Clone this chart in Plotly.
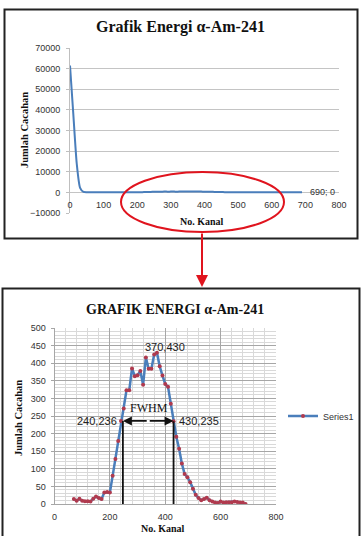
import plotly.graph_objects as go

W, H = 362, 536

# ---------------- data ----------------
# Full spectrum (top chart): channel vs counts
head_channels = [0, 10, 20, 30, 40, 50, 60]
head_counts = [61500, 37600, 14000, 2200, 200, 40, 20]

# Zoomed peak region (bottom chart)
peak_channels = [70, 80, 90, 100, 110, 120, 130, 140, 150, 160, 170, 180, 190, 200,
                 210, 220, 230, 240, 250, 260, 270, 280, 290, 300, 310, 320, 330, 340,
                 350, 360, 370, 380, 390, 400, 410, 420, 430, 440, 450, 460, 470, 480,
                 490, 500, 510, 520, 530, 540, 550, 560, 570, 580, 590, 600, 610, 620,
                 630, 640, 650, 660, 670, 680, 690]
peak_counts = [14, 9, 15, 9, 8, 8, 7, 15, 21, 17, 14, 33, 34, 33,
               80, 128, 179, 236, 271, 323, 323, 385, 363, 366, 378, 339, 416, 384,
               384, 425, 430, 391, 365, 341, 333, 285, 235, 191, 157, 115, 85, 76,
               62, 43, 26, 17, 11, 14, 18, 11, 7, 4, 3, 7, 4, 5,
               5, 5, 7, 6, 4, 4, 0]

full_channels = head_channels + peak_channels
full_counts = head_counts + peak_counts

top_title = "Grafik Energi α-Am-241"
bottom_title = "GRAFIK ENERGI α-Am-241"
x_title = "No. Kanal"
y_title = "Jumlah Cacahan"
series_name = "Series1"

top_yticks = [-10000, 0, 10000, 20000, 30000, 40000, 50000, 60000, 70000]
top_xticks = [0, 100, 200, 300, 400, 500, 600, 700, 800]
bottom_xticks = [0, 200, 400, 600, 800]
bottom_yticks = [0, 50, 100, 150, 200, 250, 300, 350, 400, 450, 500]

peak_point = (370, 430)
fwhm_left = (240, 236)
fwhm_right = (430, 235)
fwhm_lines_x = [247, 430]
end_label = (690, 0)

# ---------------- helpers ----------------
def px(x):
    return x / W

def py(y):
    return 1 - y / H

LINE_BLUE = "#4a7ebb"
MARK = "#b03a4e"
TICKFONT = dict(family="Liberation Sans, Arial, sans-serif", size=9, color="#333333")
SERIF = "Liberation Serif, Times New Roman, serif"

top_xdom = [px(70), px(339)]
top_ydom = [py(213), py(48)]
top_yrange = [-10000, 70000]
zero_pos = top_ydom[0] + (0 - top_yrange[0]) / (top_yrange[1] - top_yrange[0]) * (top_ydom[1] - top_ydom[0])

bot_xdom = [px(54.5), px(276)]
bot_ydom = [py(504), py(328)]

fig = go.Figure()

fig.add_trace(go.Scatter(
    x=full_channels, y=full_counts, mode="lines",
    line=dict(color=LINE_BLUE, width=2, shape="spline", smoothing=0.6),
    xaxis="x", yaxis="y", showlegend=False, hoverinfo="x+y"))

fig.add_trace(go.Scatter(
    x=peak_channels, y=peak_counts, mode="lines+markers", name=series_name,
    line=dict(color=LINE_BLUE, width=2.5),
    marker=dict(color=MARK, size=4),
    xaxis="x2", yaxis="y2", showlegend=True))

fig.update_layout(
    width=W, height=H,
    margin=dict(l=0, r=0, t=0, b=0, autoexpand=False),
    paper_bgcolor="white", plot_bgcolor="white",
    xaxis=dict(domain=top_xdom, range=[0, 800], tickvals=top_xticks, anchor="free",
               position=zero_pos, showgrid=False, zeroline=False, showline=False,
               ticks="", ticklabelstandoff=6, tickfont=TICKFONT, fixedrange=True),
    yaxis=dict(domain=top_ydom, range=top_yrange, tickvals=top_yticks, tickformat="d", anchor="x",
               showgrid=True, gridcolor="#c4c4c4", gridwidth=1, zeroline=True,
               zerolinecolor="#c4c4c4", zerolinewidth=1,
               showline=True, linecolor="#bfbfbf", linewidth=1,
               ticks="outside", ticklen=3, tickcolor="#bfbfbf", ticklabelstandoff=4,
               tickfont=TICKFONT, fixedrange=True),
    xaxis2=dict(domain=bot_xdom, range=[0, 800], tickvals=bottom_xticks, anchor="y2",
                showgrid=True, gridcolor="#a6a6a6", gridwidth=1, zeroline=False,
                showline=True, linecolor="#a6a6a6", linewidth=1,
                minor=dict(dtick=40, showgrid=True, gridcolor="#d9d9d9", gridwidth=1),
                ticks="", ticklabelstandoff=4, tickfont=TICKFONT, fixedrange=True),
    yaxis2=dict(domain=bot_ydom, range=[0, 500], tickvals=bottom_yticks, anchor="x2",
                showgrid=True, gridcolor="#a6a6a6", gridwidth=1, zeroline=False,
                showline=True, linecolor="#a6a6a6", linewidth=1,
                minor=dict(dtick=10, showgrid=True, gridcolor="#d9d9d9", gridwidth=1),
                ticks="outside", ticklen=3, tickcolor="#a6a6a6", ticklabelstandoff=3,
                tickfont=TICKFONT, fixedrange=True),
    legend=dict(x=px(283), y=py(416), xanchor="left", yanchor="middle",
                font=dict(family="Liberation Sans, Arial, sans-serif", size=9, color="#333333"),
                bgcolor="rgba(0,0,0,0)", itemwidth=30),
)

annotations = []

def label(text, x, y, size, angle=0, family=SERIF):
    annotations.append(dict(text=text, x=px(x), y=py(y), xref="paper", yref="paper",
                            xanchor="center", yanchor="middle", showarrow=False, textangle=angle,
                            font=dict(family=family, size=size, color="#111")))

# titles
label("<b>%s</b>" % top_title, 180, 27, 16)
label("<b>%s</b>" % bottom_title, 175, 309, 14)
# axis titles
label("<b>%s</b>" % x_title, 202, 221, 10)
label("<b>%s</b>" % y_title, 24, 130, 10.5, angle=-90)
label("<b>%s</b>" % x_title, 163, 528, 10)
label("<b>%s</b>" % y_title, 18, 418, 10.5, angle=-90)

# data labels
LABFONT = dict(family="Liberation Sans, Arial, sans-serif", size=11, color="#222")
annotations.append(dict(text="%d; %d" % end_label, x=end_label[0], y=end_label[1], xref="x", yref="y",
                        xanchor="left", yanchor="middle", xshift=6, showarrow=False,
                        font=dict(family="Liberation Sans, Arial, sans-serif", size=9, color="#333")))
annotations.append(dict(text="%d,%d" % peak_point, x=peak_point[0], y=peak_point[1], xref="x2", yref="y2",
                        xanchor="left", yanchor="bottom", xshift=-14, yshift=-2, showarrow=False, font=LABFONT))
annotations.append(dict(text="%d,%d" % fwhm_left, x=fwhm_left[0], y=fwhm_left[1], xref="x2", yref="y2",
                        xanchor="right", yanchor="middle", xshift=-2, showarrow=False, font=LABFONT))
annotations.append(dict(text="%d,%d" % fwhm_right, x=fwhm_right[0], y=fwhm_right[1], xref="x2", yref="y2",
                        xanchor="left", yanchor="middle", xshift=3, showarrow=False, font=LABFONT))
annotations.append(dict(text="FWHM", x=(fwhm_left[0] + fwhm_right[0]) / 2 + 6, y=fwhm_left[1], xref="x2", yref="y2",
                        xanchor="center", yanchor="bottom", yshift=4, showarrow=False,
                        font=dict(family=SERIF, size=12, color="#111")))
# FWHM double arrow
for tail, head in [(fwhm_lines_x[0], fwhm_lines_x[1]), (fwhm_lines_x[1], fwhm_lines_x[0])]:
    annotations.append(dict(x=head, y=fwhm_left[1], ax=(tail + head) / 2, ay=fwhm_left[1],
                            xref="x2", yref="y2", axref="x2", ayref="y2", text="",
                            showarrow=True, arrowhead=2, arrowsize=1, arrowwidth=1.8, arrowcolor="#111",
                            standoff=0))
# red connecting arrow
annotations.append(dict(x=px(202), y=py(287), ax=0, ay=-55, xref="paper", yref="paper",
                        text="", showarrow=True, arrowhead=2,
                        arrowsize=1.2, arrowwidth=2, arrowcolor="#e0141e", standoff=0))
fig.update_layout(annotations=annotations)

shapes = []
# chart borders
shapes.append(dict(type="rect", xref="paper", yref="paper", x0=px(4.5), x1=px(357.5), y0=py(238.5), y1=py(9.5),
                   line=dict(color="#222", width=2)))
shapes.append(dict(type="rect", xref="paper", yref="paper", x0=px(2.5), x1=px(359.5), y0=py(545), y1=py(288.5),
                   line=dict(color="#222", width=2)))
# FWHM verticals
for xv, yv in zip(fwhm_lines_x, [fwhm_left[1], fwhm_right[1]]):
    shapes.append(dict(type="line", xref="x2", yref="y2", x0=xv, x1=xv, y0=0, y1=yv,
                       line=dict(color="#111", width=1.8)))
# red ellipse
shapes.append(dict(type="circle", xref="paper", yref="paper", x0=px(121), x1=px(284), y0=py(232), y1=py(172),
                   line=dict(color="#e0141e", width=2)))
fig.update_layout(shapes=shapes)

fig.write_html("out.html")
